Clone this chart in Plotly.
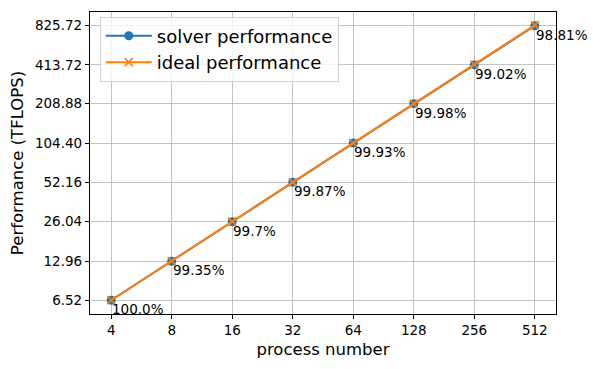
import numpy as np
import plotly.graph_objects as go

processes = [4, 8, 16, 32, 64, 128, 256, 512]
solver_perf = [6.52, 12.96, 26.04, 52.16, 104.40, 208.88, 413.72, 825.72]
ideal_perf = [6.52, 13.04, 26.08, 52.16, 104.32, 208.64, 417.28, 834.56]
efficiency_labels = ["100.0%", "99.35%", "99.7%", "99.87%", "99.93%", "99.98%", "99.02%", "98.81%"]
y_tick_vals = solver_perf
y_tick_text = ["6.52", "12.96", "26.04", "52.16", "104.40", "208.88", "413.72", "825.72"]
x_tick_text = [str(p) for p in processes]

BLUE = "#1f77b4"
ORANGE = "#ff7f0e"
FONT = "DejaVu Sans"

fig = go.Figure()
fig.add_trace(go.Scatter(
    x=processes, y=solver_perf, mode="lines+markers", name="solver performance",
    line=dict(color=BLUE, width=2),
    marker=dict(symbol="circle", size=9, color=BLUE),
))
fig.add_trace(go.Scatter(
    x=processes, y=ideal_perf, mode="lines+markers", name="ideal performance",
    line=dict(color=ORANGE, width=2),
    marker=dict(symbol="x-thin", size=8, color=ORANGE, line=dict(color=ORANGE, width=1.6)),
))

for x, y, t in zip(processes, solver_perf, efficiency_labels):
    fig.add_annotation(
        x=np.log10(x), y=np.log10(y), xref="x", yref="y", text=t,
        showarrow=False, xanchor="left", yanchor="top", xshift=-1, yshift=1,
        font=dict(family=FONT, size=13.5, color="black"),
    )

lx0 = np.log10(4) - 0.35 * np.log10(2)
lx1 = np.log10(512) + 0.35 * np.log10(2)
ly0 = np.log10(solver_perf[0]) - 0.35 * np.log10(2)
ly1 = np.log10(solver_perf[-1]) + 0.35 * np.log10(2)

axis_common = dict(
    showline=True, linecolor="black", linewidth=1.2, mirror=True,
    ticks="outside", ticklen=4, tickcolor="black", tickwidth=1,
    showgrid=True, gridcolor="#c4c4c4", gridwidth=1, zeroline=False,
    tickfont=dict(family=FONT, size=13.5, color="black"),
    automargin=False,
)

fig.update_xaxes(
    type="log", range=[lx0, lx1], tickmode="array", tickvals=processes, ticktext=x_tick_text,
    title=dict(text="process number", font=dict(family=FONT, size=16.5, color="black"), standoff=6),
    **axis_common,
)
fig.update_yaxes(
    type="log", range=[ly0, ly1], tickmode="array", tickvals=y_tick_vals, ticktext=y_tick_text,
    title=dict(text="Performance (TFLOPS)", font=dict(family=FONT, size=16.5, color="black"), standoff=8),
    **axis_common,
)

fig.update_layout(
    width=600, height=369,
    margin=dict(l=82, r=52, t=4, b=63),
    paper_bgcolor="white", plot_bgcolor="white",
    font=dict(family=FONT, color="black"),
    legend=dict(
        x=0.021, y=0.985, xanchor="left", yanchor="top",
        bgcolor="rgba(255,255,255,0.8)", bordercolor="#d0d0d0", borderwidth=1,
        font=dict(family=FONT, size=18, color="black"),
        tracegroupgap=0, itemwidth=46,
    ),
    showlegend=True,
)

fig.write_html("out.html")
